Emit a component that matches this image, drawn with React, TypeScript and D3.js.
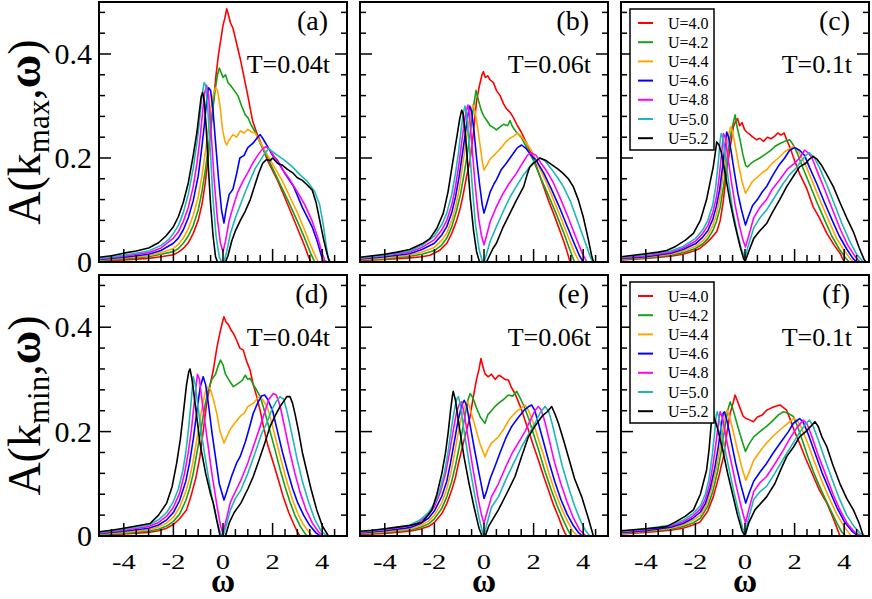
import React from "react";
import * as d3 from "d3";

// ---------- data ----------
const uLabels = ["U=4.0", "U=4.2", "U=4.4", "U=4.6", "U=4.8", "U=5.0", "U=5.2"];
const seriesColors = ["#ff0000", "#16a016", "#ffa500", "#0000ff", "#ff00ff", "#1cb8b8", "#000000"];
const panelLetters = ["(a)", "(b)", "(c)", "(d)", "(e)", "(f)"];
const tempLabels = ["T=0.04t", "T=0.06t", "T=0.1t", "T=0.04t", "T=0.06t", "T=0.1t"];
const omegaMajorTicks = [-4, -2, 0, 2, 4];
const omegaMinorTicks = [-4.5, -3.5, -3, -2.5, -1.5, -1, -0.5, 0.5, 1, 1.5, 2.5, 3, 3.5, 4.5];
const aMajorTicks = [0, 0.2, 0.4];
const aMinorTicks = [0.04, 0.08, 0.12, 0.16, 0.24, 0.28, 0.32, 0.36, 0.44, 0.48];

// (a) k_max, T=0.04t
const kmaxT004: number[][][] = [
  [[-5,0.002],[-4,0.004],[-3,0.007],[-2.5,0.01],[-2,0.014],[-1.8,0.019],[-1.6,0.026],[-1.4,0.037],[-1.2,0.055],[-1.0,0.08],[-0.85,0.11],[-0.72,0.15],[-0.6,0.2],[-0.48,0.26],[-0.38,0.31],[-0.28,0.36],[-0.18,0.4],[-0.08,0.43],[0.0,0.455],[0.08,0.47],[0.15,0.487],[0.22,0.475],[0.3,0.46],[0.4,0.45],[0.5,0.43],[0.6,0.41],[0.7,0.39],[0.85,0.355],[1.0,0.32],[1.1,0.295],[1.2,0.27],[1.35,0.25],[1.5,0.232],[1.8,0.195],[2.2,0.157],[2.5,0.123],[2.7,0.1],[3.0,0.065],[3.3,0.03],[3.45,0.01],[3.55,0],[5,0]],
  [[-5,0.003],[-4,0.006],[-3,0.01],[-2.5,0.015],[-2,0.02],[-1.8,0.026],[-1.6,0.036],[-1.4,0.05],[-1.2,0.07],[-1.0,0.1],[-0.85,0.135],[-0.7,0.18],[-0.55,0.235],[-0.42,0.29],[-0.32,0.33],[-0.22,0.36],[-0.15,0.373],[-0.08,0.365],[0.0,0.355],[0.1,0.36],[0.2,0.345],[0.3,0.34],[0.45,0.33],[0.6,0.32],[0.75,0.3],[0.9,0.283],[1.0,0.278],[1.15,0.262],[1.3,0.25],[1.5,0.228],[1.8,0.2],[2.1,0.17],[2.4,0.14],[2.7,0.11],[3.0,0.078],[3.3,0.045],[3.55,0.015],[3.7,0],[5,0]],
  [[-5,0.004],[-4,0.008],[-3,0.012],[-2.5,0.018],[-2,0.026],[-1.8,0.034],[-1.6,0.046],[-1.4,0.064],[-1.2,0.09],[-1.0,0.125],[-0.85,0.165],[-0.7,0.215],[-0.58,0.26],[-0.48,0.3],[-0.38,0.325],[-0.3,0.335],[-0.22,0.33],[-0.12,0.3],[-0.02,0.255],[0.08,0.232],[0.15,0.225],[0.25,0.235],[0.4,0.245],[0.55,0.24],[0.7,0.252],[0.85,0.248],[1.0,0.255],[1.15,0.25],[1.3,0.248],[1.45,0.235],[1.6,0.222],[1.8,0.205],[2.1,0.18],[2.4,0.155],[2.7,0.125],[3.0,0.095],[3.3,0.06],[3.55,0.03],[3.75,0.008],[3.85,0],[5,0]],
  [[-5,0.005],[-4,0.009],[-3,0.015],[-2.5,0.022],[-2,0.036],[-1.8,0.046],[-1.6,0.062],[-1.4,0.085],[-1.2,0.118],[-1.0,0.165],[-0.88,0.21],[-0.76,0.26],[-0.66,0.31],[-0.58,0.335],[-0.5,0.33],[-0.4,0.29],[-0.3,0.23],[-0.18,0.16],[-0.06,0.1],[0.04,0.075],[0.12,0.1],[0.25,0.13],[0.4,0.14],[0.55,0.17],[0.68,0.2],[0.85,0.205],[1.0,0.22],[1.2,0.228],[1.4,0.24],[1.5,0.245],[1.6,0.238],[1.8,0.222],[2.0,0.205],[2.2,0.195],[2.5,0.17],[2.85,0.145],[3.2,0.105],[3.6,0.067],[3.8,0.04],[3.95,0.015],[4.05,0],[5,0]],
  [[-5,0.006],[-4,0.011],[-3,0.018],[-2.5,0.027],[-2,0.046],[-1.8,0.058],[-1.6,0.078],[-1.4,0.105],[-1.2,0.145],[-1.05,0.19],[-0.92,0.24],[-0.82,0.29],[-0.74,0.325],[-0.66,0.34],[-0.58,0.32],[-0.48,0.25],[-0.36,0.16],[-0.22,0.08],[-0.1,0.035],[0.0,0.02],[0.1,0.04],[0.25,0.08],[0.4,0.105],[0.6,0.135],[0.8,0.155],[1.0,0.172],[1.2,0.19],[1.4,0.205],[1.6,0.218],[1.75,0.222],[1.9,0.215],[2.1,0.2],[2.4,0.178],[2.7,0.158],[3.0,0.135],[3.3,0.11],[3.6,0.078],[3.8,0.05],[3.95,0.025],[4.1,0.003],[4.2,0],[5,0]],
  [[-5,0.007],[-4,0.013],[-3,0.021],[-2.5,0.032],[-2.2,0.043],[-2,0.055],[-1.8,0.07],[-1.6,0.095],[-1.4,0.13],[-1.2,0.18],[-1.05,0.23],[-0.95,0.27],[-0.85,0.32],[-0.76,0.345],[-0.7,0.34],[-0.62,0.3],[-0.52,0.22],[-0.4,0.12],[-0.28,0.05],[-0.15,0.01],[-0.05,0.0],[0.05,0.002],[0.15,0.02],[0.3,0.055],[0.5,0.085],[0.7,0.11],[0.9,0.135],[1.1,0.158],[1.3,0.18],[1.5,0.195],[1.7,0.21],[1.85,0.218],[2.0,0.212],[2.2,0.205],[2.5,0.195],[2.8,0.183],[3.1,0.168],[3.4,0.155],[3.7,0.135],[3.9,0.11],[4.05,0.07],[4.15,0.035],[4.25,0.005],[4.35,0],[5,0]],
  [[-5,0.009],[-4.5,0.012],[-4,0.017],[-3.5,0.021],[-3,0.027],[-2.6,0.037],[-2.3,0.05],[-2,0.068],[-1.8,0.087],[-1.6,0.115],[-1.4,0.152],[-1.2,0.205],[-1.05,0.25],[-0.95,0.29],[-0.88,0.318],[-0.82,0.326],[-0.76,0.31],[-0.68,0.26],[-0.6,0.19],[-0.5,0.11],[-0.4,0.05],[-0.3,0.01],[-0.22,0.0],[0.1,0.0],[0.2,0.012],[0.35,0.04],[0.5,0.06],[0.7,0.08],[0.9,0.098],[1.1,0.12],[1.3,0.15],[1.45,0.172],[1.6,0.19],[1.75,0.197],[1.9,0.195],[2.0,0.2],[2.2,0.19],[2.4,0.186],[2.6,0.178],[2.8,0.172],[3.0,0.162],[3.2,0.157],[3.4,0.148],[3.6,0.138],[3.75,0.115],[3.9,0.08],[4.05,0.045],[4.2,0.015],[4.3,0.0],[5,0]],
];

// (b) k_max, T=0.06t
const kmaxT006: number[][][] = [
  [[-5,0.003],[-4,0.005],[-3,0.008],[-2.5,0.01],[-2.18,0.013],[-1.8,0.022],[-1.5,0.036],[-1.3,0.055],[-1.1,0.08],[-0.95,0.105],[-0.83,0.132],[-0.7,0.165],[-0.56,0.196],[-0.43,0.247],[-0.3,0.31],[-0.18,0.34],[-0.08,0.36],[-0.02,0.366],[0.05,0.355],[0.15,0.358],[0.25,0.35],[0.38,0.345],[0.5,0.33],[0.65,0.32],[0.78,0.305],[0.9,0.295],[1.05,0.288],[1.18,0.278],[1.35,0.262],[1.5,0.25],[1.6,0.24],[1.8,0.22],[2.0,0.2],[2.2,0.172],[2.4,0.145],[2.6,0.118],[2.8,0.094],[3.0,0.068],[3.2,0.042],[3.35,0.02],[3.47,0],[5,0]],
  [[-5,0.004],[-4,0.006],[-3,0.011],[-2.5,0.015],[-2,0.022],[-1.7,0.033],[-1.5,0.046],[-1.3,0.068],[-1.1,0.1],[-0.95,0.13],[-0.8,0.17],[-0.68,0.205],[-0.55,0.25],[-0.42,0.3],[-0.32,0.33],[-0.22,0.31],[-0.1,0.29],[0.0,0.28],[0.1,0.273],[0.25,0.262],[0.4,0.258],[0.5,0.254],[0.65,0.26],[0.8,0.265],[0.95,0.262],[1.05,0.272],[1.15,0.26],[1.3,0.25],[1.5,0.24],[1.7,0.222],[2.0,0.195],[2.3,0.16],[2.6,0.128],[2.9,0.094],[3.2,0.058],[3.45,0.025],[3.65,0],[5,0]],
  [[-5,0.005],[-4,0.008],[-3,0.013],[-2.5,0.019],[-2,0.028],[-1.7,0.042],[-1.5,0.056],[-1.3,0.08],[-1.15,0.105],[-1.0,0.14],[-0.88,0.18],[-0.76,0.22],[-0.64,0.26],[-0.54,0.29],[-0.45,0.302],[-0.36,0.29],[-0.26,0.26],[-0.16,0.225],[-0.06,0.19],[0.0,0.177],[0.1,0.185],[0.25,0.198],[0.4,0.205],[0.5,0.21],[0.7,0.22],[0.9,0.232],[1.05,0.238],[1.2,0.242],[1.35,0.248],[1.5,0.242],[1.7,0.23],[1.9,0.215],[2.2,0.185],[2.5,0.155],[2.8,0.12],[3.1,0.085],[3.4,0.048],[3.65,0.018],[3.85,0],[5,0]],
  [[-5,0.006],[-4,0.01],[-3,0.016],[-2.5,0.024],[-2,0.036],[-1.7,0.052],[-1.5,0.068],[-1.3,0.095],[-1.15,0.125],[-1.0,0.165],[-0.88,0.205],[-0.76,0.245],[-0.66,0.28],[-0.58,0.3],[-0.5,0.29],[-0.4,0.25],[-0.3,0.2],[-0.18,0.15],[-0.07,0.11],[0.0,0.094],[0.1,0.11],[0.25,0.135],[0.4,0.15],[0.5,0.158],[0.7,0.178],[0.9,0.19],[1.05,0.2],[1.2,0.21],[1.35,0.22],[1.52,0.225],[1.7,0.218],[1.9,0.205],[2.1,0.196],[2.4,0.172],[2.7,0.142],[3.0,0.11],[3.3,0.075],[3.6,0.04],[3.85,0.012],[4.0,0],[5,0]],
  [[-5,0.007],[-4,0.012],[-3,0.019],[-2.5,0.028],[-2,0.043],[-1.7,0.062],[-1.5,0.08],[-1.3,0.11],[-1.15,0.145],[-1.02,0.185],[-0.9,0.23],[-0.8,0.265],[-0.72,0.29],[-0.65,0.302],[-0.58,0.28],[-0.48,0.22],[-0.36,0.15],[-0.22,0.085],[-0.1,0.05],[0.0,0.033],[0.1,0.05],[0.25,0.078],[0.5,0.106],[0.75,0.13],[1.0,0.15],[1.3,0.17],[1.55,0.19],[1.75,0.205],[1.9,0.21],[2.1,0.205],[2.3,0.19],[2.5,0.177],[2.8,0.152],[3.1,0.12],[3.4,0.085],[3.7,0.048],[3.95,0.018],[4.15,0],[5,0]],
  [[-5,0.008],[-4,0.013],[-3,0.021],[-2.5,0.032],[-2,0.05],[-1.7,0.072],[-1.5,0.094],[-1.3,0.13],[-1.15,0.17],[-1.03,0.21],[-0.92,0.255],[-0.84,0.285],[-0.77,0.3],[-0.7,0.285],[-0.6,0.23],[-0.48,0.15],[-0.35,0.075],[-0.2,0.025],[-0.08,0.003],[0.0,0.0],[0.1,0.015],[0.25,0.04],[0.5,0.068],[0.8,0.1],[1.05,0.125],[1.3,0.145],[1.6,0.168],[1.85,0.183],[2.05,0.195],[2.25,0.2],[2.45,0.195],[2.7,0.18],[3.0,0.16],[3.2,0.145],[3.5,0.115],[3.8,0.075],[4.1,0.035],[4.3,0.008],[4.4,0],[5,0]],
  [[-5,0.009],[-4.5,0.012],[-4,0.015],[-3.5,0.019],[-3,0.024],[-2.5,0.035],[-2.18,0.045],[-1.9,0.065],[-1.64,0.094],[-1.45,0.135],[-1.3,0.18],[-1.2,0.21],[-1.08,0.245],[-0.98,0.275],[-0.9,0.292],[-0.84,0.285],[-0.76,0.25],[-0.66,0.19],[-0.55,0.12],[-0.42,0.06],[-0.3,0.02],[-0.18,0.0],[0.1,0.0],[0.22,0.012],[0.35,0.025],[0.5,0.036],[0.75,0.065],[1.05,0.094],[1.3,0.118],[1.6,0.145],[1.75,0.17],[1.85,0.183],[2.0,0.19],[2.25,0.2],[2.5,0.195],[2.8,0.185],[3.0,0.178],[3.2,0.17],[3.4,0.16],[3.6,0.145],[3.8,0.12],[4.0,0.087],[4.2,0.045],[4.35,0.01],[4.42,0],[5,0]],
];

// (c) k_max, T=0.1t
const kmaxT01: number[][][] = [
  [[-5,0.004],[-4,0.007],[-3,0.011],[-2.5,0.015],[-2,0.022],[-1.8,0.027],[-1.6,0.035],[-1.4,0.044],[-1.14,0.058],[-1.0,0.08],[-0.88,0.115],[-0.74,0.175],[-0.6,0.22],[-0.47,0.26],[-0.38,0.27],[-0.3,0.276],[-0.22,0.262],[-0.12,0.268],[-0.02,0.255],[0.07,0.25],[0.2,0.245],[0.32,0.24],[0.47,0.235],[0.6,0.238],[0.75,0.232],[0.9,0.24],[1.05,0.237],[1.2,0.242],[1.32,0.248],[1.45,0.244],[1.58,0.248],[1.68,0.235],[1.8,0.222],[2.0,0.195],[2.2,0.17],[2.5,0.14],[2.75,0.106],[3.0,0.085],[3.3,0.055],[3.6,0.032],[3.83,0.017],[3.95,0.005],[4.03,0],[5,0]],
  [[-5,0.005],[-4,0.008],[-3,0.013],[-2.5,0.018],[-2,0.026],[-1.7,0.035],[-1.5,0.045],[-1.3,0.06],[-1.15,0.078],[-1.0,0.105],[-0.85,0.15],[-0.72,0.2],[-0.6,0.24],[-0.5,0.262],[-0.4,0.283],[-0.32,0.26],[-0.2,0.235],[-0.08,0.205],[0.03,0.185],[0.1,0.183],[0.25,0.19],[0.4,0.195],[0.6,0.2],[0.87,0.209],[1.05,0.215],[1.2,0.222],[1.41,0.228],[1.6,0.232],[1.8,0.235],[1.95,0.225],[2.1,0.21],[2.3,0.185],[2.6,0.15],[2.9,0.115],[3.2,0.082],[3.5,0.05],[3.8,0.025],[4.05,0.008],[4.2,0],[5,0]],
  [[-5,0.006],[-4,0.009],[-3,0.015],[-2.5,0.021],[-2,0.03],[-1.7,0.041],[-1.5,0.052],[-1.3,0.07],[-1.15,0.092],[-1.0,0.125],[-0.88,0.17],[-0.76,0.215],[-0.66,0.245],[-0.58,0.26],[-0.5,0.25],[-0.38,0.22],[-0.25,0.185],[-0.12,0.155],[0.02,0.132],[0.12,0.14],[0.3,0.155],[0.5,0.163],[0.7,0.172],[0.87,0.177],[1.1,0.19],[1.35,0.2],[1.6,0.212],[1.8,0.218],[1.95,0.222],[2.1,0.218],[2.3,0.2],[2.5,0.18],[2.8,0.145],[3.1,0.11],[3.4,0.077],[3.7,0.045],[4.0,0.022],[4.25,0.006],[4.37,0],[5,0]],
  [[-5,0.007],[-4,0.01],[-3,0.017],[-2.5,0.024],[-2,0.035],[-1.7,0.048],[-1.5,0.06],[-1.3,0.082],[-1.15,0.108],[-1.02,0.14],[-0.9,0.185],[-0.8,0.225],[-0.74,0.25],[-0.66,0.24],[-0.55,0.21],[-0.42,0.17],[-0.28,0.13],[-0.14,0.1],[0.02,0.071],[0.12,0.085],[0.3,0.108],[0.5,0.12],[0.7,0.135],[0.87,0.145],[1.1,0.165],[1.35,0.185],[1.6,0.2],[1.8,0.215],[2.0,0.22],[2.2,0.215],[2.4,0.205],[2.6,0.182],[2.9,0.15],[3.2,0.115],[3.5,0.082],[3.8,0.05],[4.1,0.025],[4.35,0.007],[4.5,0],[5,0]],
  [[-5,0.008],[-4,0.012],[-3,0.019],[-2.5,0.027],[-2,0.04],[-1.7,0.055],[-1.5,0.07],[-1.3,0.095],[-1.15,0.125],[-1.05,0.16],[-0.95,0.205],[-0.87,0.247],[-0.8,0.24],[-0.7,0.205],[-0.55,0.155],[-0.4,0.11],[-0.25,0.075],[-0.1,0.045],[0.02,0.029],[0.15,0.05],[0.35,0.085],[0.6,0.105],[0.87,0.12],[1.1,0.14],[1.4,0.158],[1.7,0.178],[2.0,0.19],[2.2,0.2],[2.4,0.215],[2.55,0.21],[2.7,0.2],[2.95,0.17],[3.25,0.135],[3.55,0.098],[3.85,0.062],[4.15,0.032],[4.45,0.01],[4.64,0],[5,0]],
  [[-5,0.009],[-4,0.014],[-3,0.021],[-2.5,0.03],[-2,0.045],[-1.7,0.062],[-1.5,0.08],[-1.3,0.11],[-1.18,0.145],[-1.08,0.19],[-1.0,0.235],[-0.96,0.247],[-0.9,0.24],[-0.8,0.205],[-0.65,0.15],[-0.5,0.1],[-0.32,0.058],[-0.15,0.025],[0.0,0.008],[0.12,0.03],[0.35,0.065],[0.6,0.085],[0.87,0.1],[1.2,0.125],[1.5,0.148],[1.8,0.168],[2.05,0.18],[2.2,0.19],[2.45,0.205],[2.6,0.21],[2.8,0.2],[3.0,0.182],[3.3,0.148],[3.6,0.112],[3.9,0.075],[4.2,0.042],[4.5,0.015],[4.77,0],[5,0]],
  [[-5,0.01],[-4.5,0.013],[-4,0.016],[-3.5,0.019],[-3.16,0.022],[-2.8,0.03],[-2.4,0.042],[-2.08,0.055],[-1.8,0.08],[-1.55,0.12],[-1.4,0.155],[-1.28,0.183],[-1.2,0.21],[-1.14,0.231],[-1.05,0.225],[-0.95,0.21],[-0.8,0.17],[-0.6,0.115],[-0.4,0.07],[-0.2,0.03],[-0.05,0.005],[0.02,0.003],[0.15,0.02],[0.35,0.045],[0.6,0.06],[0.87,0.074],[1.1,0.095],[1.4,0.12],[1.68,0.145],[1.95,0.165],[2.2,0.183],[2.45,0.19],[2.6,0.198],[2.75,0.203],[2.9,0.198],[3.1,0.185],[3.3,0.168],[3.56,0.145],[3.85,0.112],[4.1,0.085],[4.37,0.058],[4.6,0.028],[4.8,0.005],[4.88,0],[5,0]],
];

// (d) k_min, T=0.04t
const kminT004: number[][][] = [
  [[-5,0.002],[-4,0.004],[-3,0.007],[-2.6,0.01],[-2.27,0.015],[-2,0.022],[-1.75,0.033],[-1.47,0.05],[-1.3,0.075],[-1.1,0.11],[-0.93,0.152],[-0.8,0.2],[-0.66,0.254],[-0.52,0.29],[-0.39,0.318],[-0.25,0.36],[-0.12,0.39],[-0.02,0.41],[0.04,0.42],[0.12,0.41],[0.22,0.405],[0.32,0.395],[0.42,0.388],[0.55,0.375],[0.68,0.36],[0.82,0.356],[0.95,0.335],[1.09,0.318],[1.22,0.29],[1.36,0.267],[1.5,0.24],[1.63,0.21],[1.8,0.175],[2.03,0.14],[2.25,0.105],[2.43,0.075],[2.65,0.045],[2.84,0.024],[3.0,0.008],[3.1,0],[5,0]],
  [[-5,0.003],[-4,0.005],[-3,0.009],[-2.6,0.013],[-2.27,0.019],[-2,0.028],[-1.75,0.042],[-1.5,0.068],[-1.35,0.09],[-1.2,0.12],[-1.05,0.16],[-0.9,0.2],[-0.75,0.245],[-0.6,0.278],[-0.45,0.3],[-0.3,0.31],[-0.2,0.325],[-0.1,0.337],[0.0,0.328],[0.1,0.31],[0.25,0.298],[0.42,0.286],[0.6,0.292],[0.78,0.298],[0.9,0.308],[1.0,0.3],[1.1,0.302],[1.22,0.29],[1.35,0.28],[1.5,0.267],[1.7,0.235],[1.9,0.2],[2.1,0.165],[2.3,0.128],[2.5,0.095],[2.7,0.065],[2.9,0.04],[3.1,0.02],[3.3,0.005],[3.4,0],[5,0]],
  [[-5,0.004],[-4,0.007],[-3,0.012],[-2.6,0.017],[-2.27,0.025],[-2,0.036],[-1.75,0.055],[-1.5,0.085],[-1.35,0.11],[-1.2,0.145],[-1.0,0.2],[-0.85,0.245],[-0.72,0.275],[-0.6,0.286],[-0.5,0.28],[-0.38,0.26],[-0.25,0.235],[-0.12,0.2],[0.04,0.178],[0.15,0.19],[0.3,0.205],[0.5,0.218],[0.69,0.229],[0.85,0.235],[1.0,0.248],[1.22,0.254],[1.4,0.265],[1.5,0.267],[1.62,0.26],[1.8,0.245],[2.0,0.21],[2.2,0.172],[2.4,0.135],[2.6,0.1],[2.8,0.07],[3.0,0.045],[3.2,0.025],[3.45,0.008],[3.62,0],[5,0]],
  [[-5,0.005],[-4,0.009],[-3,0.015],[-2.6,0.021],[-2.27,0.031],[-2,0.045],[-1.75,0.068],[-1.5,0.105],[-1.35,0.14],[-1.2,0.185],[-1.05,0.24],[-0.92,0.285],[-0.8,0.305],[-0.7,0.29],[-0.58,0.25],[-0.45,0.2],[-0.3,0.15],[-0.15,0.1],[0.04,0.069],[0.15,0.085],[0.35,0.115],[0.55,0.14],[0.69,0.152],[0.9,0.18],[1.05,0.205],[1.22,0.235],[1.4,0.255],[1.55,0.268],[1.68,0.27],[1.8,0.262],[2.0,0.24],[2.2,0.2],[2.4,0.16],[2.6,0.125],[2.8,0.092],[3.0,0.065],[3.25,0.04],[3.5,0.02],[3.75,0.006],[3.92,0],[5,0]],
  [[-5,0.006],[-4,0.011],[-3,0.018],[-2.6,0.026],[-2.27,0.038],[-2,0.055],[-1.75,0.082],[-1.55,0.12],[-1.4,0.16],[-1.27,0.205],[-1.15,0.26],[-1.03,0.31],[-0.95,0.3],[-0.82,0.25],[-0.65,0.19],[-0.45,0.12],[-0.25,0.06],[-0.1,0.02],[0.0,0.005],[0.1,0.025],[0.3,0.065],[0.55,0.09],[0.75,0.11],[1.0,0.14],[1.25,0.175],[1.5,0.21],[1.7,0.24],[1.85,0.262],[2.03,0.273],[2.15,0.27],[2.3,0.25],[2.5,0.205],[2.7,0.16],[2.9,0.12],[3.1,0.085],[3.35,0.05],[3.6,0.025],[3.85,0.008],[4.05,0],[5,0]],
  [[-5,0.007],[-4,0.013],[-3,0.021],[-2.6,0.031],[-2.27,0.045],[-2,0.066],[-1.8,0.09],[-1.62,0.125],[-1.5,0.16],[-1.38,0.21],[-1.28,0.26],[-1.2,0.305],[-1.12,0.29],[-1.0,0.245],[-0.85,0.19],[-0.65,0.13],[-0.45,0.075],[-0.25,0.03],[-0.1,0.005],[0.0,0.0],[0.1,0.015],[0.3,0.05],[0.5,0.072],[0.72,0.088],[1.0,0.12],[1.3,0.16],[1.55,0.195],[1.76,0.216],[1.95,0.24],[2.15,0.258],[2.3,0.267],[2.45,0.262],[2.6,0.235],[2.8,0.19],[3.0,0.145],[3.2,0.105],[3.45,0.065],[3.7,0.032],[3.95,0.01],[4.2,0],[5,0]],
  [[-5,0.008],[-4.5,0.011],[-4,0.015],[-3.5,0.019],[-2.94,0.024],[-2.6,0.04],[-2.27,0.063],[-2.05,0.095],[-1.87,0.139],[-1.72,0.185],[-1.6,0.235],[-1.47,0.29],[-1.38,0.315],[-1.33,0.32],[-1.25,0.3],[-1.1,0.245],[-0.93,0.178],[-0.7,0.12],[-0.5,0.08],[-0.39,0.063],[-0.25,0.03],[-0.12,0.0],[0.1,0.0],[0.25,0.025],[0.45,0.045],[0.72,0.063],[1.0,0.09],[1.22,0.114],[1.45,0.145],[1.7,0.18],[1.9,0.21],[2.1,0.23],[2.3,0.248],[2.45,0.258],[2.57,0.267],[2.7,0.267],[2.8,0.255],[2.9,0.235],[3.05,0.2],[3.2,0.16],[3.37,0.126],[3.55,0.09],[3.78,0.05],[4.0,0.02],[4.25,0],[5,0]],
];

// (e) k_min, T=0.06t
const kminT006: number[][][] = [
  [[-5,0.003],[-4,0.005],[-3,0.009],[-2.6,0.013],[-2.24,0.018],[-2,0.026],[-1.7,0.043],[-1.5,0.062],[-1.3,0.088],[-1.15,0.112],[-1.03,0.139],[-0.9,0.165],[-0.77,0.19],[-0.66,0.21],[-0.56,0.229],[-0.43,0.267],[-0.3,0.3],[-0.2,0.32],[-0.12,0.34],[-0.05,0.325],[0.05,0.31],[0.17,0.305],[0.3,0.31],[0.45,0.3],[0.6,0.308],[0.71,0.305],[0.85,0.3],[0.98,0.299],[1.1,0.285],[1.25,0.273],[1.38,0.258],[1.52,0.241],[1.65,0.222],[1.79,0.203],[2.0,0.172],[2.19,0.146],[2.4,0.115],[2.6,0.088],[2.8,0.06],[3.0,0.037],[3.15,0.018],[3.27,0.005],[3.35,0],[5,0]],
  [[-5,0.004],[-4,0.007],[-3,0.011],[-2.6,0.016],[-2.24,0.023],[-2,0.033],[-1.7,0.053],[-1.5,0.075],[-1.3,0.105],[-1.15,0.135],[-1.0,0.17],[-0.88,0.2],[-0.75,0.235],[-0.65,0.26],[-0.56,0.273],[-0.45,0.265],[-0.3,0.245],[-0.15,0.228],[0.04,0.216],[0.15,0.232],[0.3,0.24],[0.44,0.248],[0.6,0.255],[0.8,0.262],[0.98,0.27],[1.15,0.268],[1.32,0.277],[1.45,0.265],[1.6,0.25],[1.8,0.225],[2.0,0.195],[2.2,0.165],[2.45,0.125],[2.7,0.09],[2.95,0.058],[3.2,0.03],[3.4,0.01],[3.53,0],[5,0]],
  [[-5,0.005],[-4,0.008],[-3,0.013],[-2.6,0.019],[-2.24,0.028],[-2,0.04],[-1.7,0.064],[-1.5,0.09],[-1.32,0.125],[-1.18,0.16],[-1.05,0.195],[-0.92,0.225],[-0.8,0.245],[-0.68,0.258],[-0.6,0.25],[-0.45,0.225],[-0.3,0.2],[-0.15,0.175],[0.04,0.152],[0.15,0.165],[0.3,0.178],[0.58,0.19],[0.8,0.205],[1.0,0.222],[1.12,0.229],[1.3,0.238],[1.5,0.245],[1.65,0.251],[1.8,0.24],[2.0,0.215],[2.2,0.185],[2.4,0.155],[2.65,0.115],[2.9,0.08],[3.15,0.05],[3.4,0.025],[3.6,0.008],[3.8,0],[5,0]],
  [[-5,0.006],[-4,0.01],[-3,0.016],[-2.6,0.023],[-2.24,0.034],[-2,0.048],[-1.7,0.076],[-1.5,0.105],[-1.35,0.14],[-1.2,0.18],[-1.05,0.22],[-0.9,0.25],[-0.8,0.26],[-0.7,0.25],[-0.55,0.21],[-0.4,0.17],[-0.2,0.12],[0.0,0.072],[0.1,0.085],[0.25,0.11],[0.44,0.133],[0.65,0.16],[0.9,0.19],[1.12,0.21],[1.35,0.225],[1.6,0.24],[1.8,0.248],[1.92,0.251],[2.05,0.24],[2.2,0.215],[2.4,0.18],[2.6,0.145],[2.85,0.105],[3.1,0.07],[3.35,0.042],[3.6,0.02],[3.8,0.007],[3.97,0],[5,0]],
  [[-5,0.007],[-4,0.012],[-3,0.019],[-2.6,0.027],[-2.24,0.04],[-2,0.056],[-1.75,0.085],[-1.55,0.12],[-1.4,0.158],[-1.25,0.2],[-1.1,0.238],[-0.98,0.255],[-0.9,0.257],[-0.8,0.235],[-0.65,0.19],[-0.45,0.13],[-0.25,0.075],[-0.1,0.04],[0.0,0.024],[0.12,0.045],[0.3,0.075],[0.58,0.1],[0.9,0.135],[1.15,0.16],[1.38,0.178],[1.65,0.2],[1.9,0.225],[2.05,0.24],[2.19,0.248],[2.3,0.242],[2.45,0.22],[2.65,0.18],[2.85,0.14],[3.1,0.1],[3.35,0.065],[3.6,0.035],[3.85,0.012],[4.12,0],[5,0]],
  [[-5,0.008],[-4,0.013],[-3,0.021],[-2.6,0.03],[-2.24,0.045],[-2,0.062],[-1.8,0.085],[-1.6,0.12],[-1.45,0.16],[-1.32,0.205],[-1.2,0.24],[-1.1,0.262],[-1.03,0.267],[-0.95,0.25],[-0.8,0.2],[-0.6,0.14],[-0.4,0.085],[-0.2,0.035],[-0.05,0.005],[0.0,0.0],[0.1,0.02],[0.3,0.055],[0.58,0.075],[0.9,0.11],[1.2,0.14],[1.52,0.171],[1.8,0.195],[2.05,0.215],[2.25,0.235],[2.46,0.248],[2.6,0.24],[2.75,0.215],[2.95,0.175],[3.15,0.135],[3.4,0.095],[3.65,0.058],[3.9,0.028],[4.1,0.01],[4.27,0],[5,0]],
  [[-5,0.009],[-4.5,0.011],[-4,0.014],[-3.5,0.017],[-3,0.02],[-2.5,0.026],[-2.1,0.05],[-1.9,0.08],[-1.7,0.12],[-1.55,0.16],[-1.44,0.2],[-1.35,0.24],[-1.27,0.27],[-1.24,0.277],[-1.15,0.26],[-1.0,0.21],[-0.8,0.15],[-0.6,0.1],[-0.4,0.055],[-0.2,0.015],[-0.08,0.0],[0.05,0.0],[0.2,0.02],[0.58,0.05],[0.9,0.08],[1.25,0.114],[1.5,0.15],[1.79,0.19],[2.05,0.21],[2.33,0.229],[2.55,0.238],[2.73,0.248],[2.85,0.235],[3.0,0.216],[3.2,0.185],[3.4,0.152],[3.65,0.11],[3.94,0.075],[4.2,0.035],[4.41,0],[5,0]],
];

// (f) k_min, T=0.1t
const kminT01: number[][][] = [
  [[-5,0.004],[-4,0.007],[-3,0.011],[-2.5,0.015],[-2.1,0.021],[-1.81,0.027],[-1.5,0.048],[-1.28,0.075],[-1.05,0.115],[-0.87,0.152],[-0.72,0.2],[-0.6,0.235],[-0.48,0.255],[-0.4,0.27],[-0.3,0.258],[-0.2,0.245],[-0.07,0.229],[0.05,0.225],[0.2,0.222],[0.34,0.219],[0.5,0.228],[0.7,0.232],[0.87,0.241],[1.05,0.245],[1.2,0.248],[1.41,0.251],[1.55,0.246],[1.68,0.241],[1.85,0.22],[2.0,0.2],[2.2,0.178],[2.45,0.148],[2.76,0.114],[3.0,0.088],[3.3,0.063],[3.55,0.035],[3.75,0.01],[3.83,0],[5,0]],
  [[-5,0.005],[-4,0.008],[-3,0.013],[-2.5,0.018],[-2.1,0.025],[-1.8,0.034],[-1.5,0.057],[-1.3,0.085],[-1.1,0.125],[-0.95,0.165],[-0.82,0.205],[-0.7,0.24],[-0.6,0.257],[-0.5,0.245],[-0.35,0.22],[-0.2,0.195],[-0.05,0.172],[0.02,0.162],[0.15,0.175],[0.35,0.19],[0.6,0.2],[0.87,0.21],[1.1,0.22],[1.35,0.232],[1.55,0.238],[1.75,0.235],[1.95,0.229],[2.1,0.212],[2.3,0.185],[2.55,0.15],[2.8,0.118],[3.1,0.085],[3.4,0.055],[3.7,0.025],[3.9,0.008],[4.05,0],[5,0]],
  [[-5,0.006],[-4,0.009],[-3,0.015],[-2.5,0.021],[-2.1,0.03],[-1.8,0.04],[-1.55,0.06],[-1.35,0.09],[-1.15,0.13],[-1.0,0.17],[-0.87,0.21],[-0.78,0.235],[-0.72,0.241],[-0.62,0.228],[-0.45,0.195],[-0.28,0.16],[-0.12,0.13],[0.03,0.107],[0.15,0.12],[0.35,0.145],[0.6,0.162],[0.87,0.178],[1.15,0.192],[1.45,0.205],[1.7,0.215],[1.95,0.225],[2.1,0.222],[2.3,0.205],[2.55,0.175],[2.8,0.142],[3.1,0.105],[3.4,0.072],[3.7,0.042],[4.0,0.018],[4.2,0.005],[4.3,0],[5,0]],
  [[-5,0.007],[-4,0.01],[-3,0.017],[-2.5,0.024],[-2.1,0.034],[-1.8,0.046],[-1.6,0.062],[-1.4,0.092],[-1.22,0.13],[-1.08,0.17],[-0.96,0.21],[-0.88,0.235],[-0.83,0.238],[-0.72,0.22],[-0.55,0.18],[-0.38,0.14],[-0.18,0.1],[0.03,0.063],[0.15,0.08],[0.35,0.105],[0.6,0.122],[0.87,0.139],[1.15,0.16],[1.45,0.18],[1.75,0.2],[1.95,0.216],[2.2,0.225],[2.35,0.218],[2.55,0.195],[2.8,0.162],[3.1,0.122],[3.4,0.088],[3.7,0.055],[4.0,0.028],[4.3,0.01],[4.55,0],[5,0]],
  [[-5,0.008],[-4,0.012],[-3,0.019],[-2.5,0.027],[-2.1,0.038],[-1.8,0.052],[-1.6,0.07],[-1.42,0.1],[-1.28,0.14],[-1.15,0.185],[-1.05,0.225],[-1.0,0.238],[-0.9,0.225],[-0.75,0.185],[-0.55,0.14],[-0.35,0.095],[-0.15,0.055],[0.02,0.025],[0.15,0.05],[0.35,0.085],[0.6,0.102],[0.87,0.114],[1.2,0.138],[1.55,0.165],[1.85,0.19],[2.1,0.208],[2.35,0.222],[2.5,0.215],[2.7,0.19],[2.95,0.155],[3.25,0.118],[3.55,0.08],[3.85,0.048],[4.15,0.022],[4.45,0.006],[4.7,0],[5,0]],
  [[-5,0.009],[-4,0.014],[-3,0.021],[-2.5,0.03],[-2.1,0.043],[-1.8,0.058],[-1.6,0.08],[-1.45,0.11],[-1.32,0.155],[-1.22,0.2],[-1.16,0.232],[-1.12,0.238],[-1.02,0.22],[-0.85,0.175],[-0.65,0.13],[-0.45,0.085],[-0.25,0.045],[-0.1,0.015],[0.0,0.005],[0.12,0.03],[0.35,0.07],[0.6,0.085],[0.87,0.095],[1.2,0.12],[1.55,0.148],[1.9,0.175],[2.2,0.198],[2.45,0.215],[2.6,0.222],[2.75,0.21],[2.95,0.185],[3.2,0.15],[3.5,0.11],[3.8,0.072],[4.1,0.04],[4.4,0.018],[4.65,0.005],[4.85,0],[5,0]],
  [[-5,0.01],[-4.5,0.012],[-4,0.014],[-3.5,0.016],[-3.16,0.018],[-2.8,0.027],[-2.4,0.038],[-2.08,0.05],[-1.8,0.08],[-1.55,0.126],[-1.45,0.165],[-1.38,0.205],[-1.34,0.229],[-1.25,0.228],[-1.1,0.205],[-0.9,0.165],[-0.7,0.12],[-0.5,0.08],[-0.3,0.04],[-0.12,0.01],[0.0,0.0],[0.15,0.025],[0.4,0.05],[0.87,0.075],[1.2,0.1],[1.45,0.128],[1.68,0.152],[1.95,0.17],[2.2,0.19],[2.45,0.2],[2.65,0.21],[2.82,0.219],[2.95,0.21],[3.1,0.19],[3.3,0.171],[3.55,0.135],[3.83,0.1],[4.1,0.072],[4.37,0.05],[4.6,0.025],[4.77,0],[5,0]],
];

const panelData = [kmaxT004, kmaxT006, kmaxT01, kminT004, kminT006, kminT01];

// ---------- layout ----------
const W = 872;
const H = 599;
const colX = [99, 360, 621];
const panelW = 248;
const rowY = [2, 275];
const rowH = [260, 261];
const FONT = '"Liberation Serif"';

function tStyle(size: number, bold?: boolean): React.CSSProperties {
  return { fontFamily: FONT, fontSize: `${size}px`, fontWeight: bold ? "bold" : "normal" };
}

function panelGeom(idx: number) {
  const col = idx % 3;
  const row = Math.floor(idx / 3);
  const x0 = colX[col];
  const y0 = rowY[row];
  const h = rowH[row];
  const x = d3.scaleLinear().domain([-5, 5]).range([x0, x0 + panelW]);
  const y = d3.scaleLinear().domain([0, 0.5]).range([y0 + h, y0]);
  return { col, row, x0, y0, h, x, y, xr: x0 + panelW, yb: y0 + h };
}

function PanelMarks({ idx }: { idx: number }) {
  const { col, x0, y0, h, x, y, xr, yb } = panelGeom(idx);
  const line = d3
    .line<number[]>()
    .x((d) => x(d[0]))
    .y((d) => y(d[1]));
  const clipId = `clip${idx}`;
  return (
    <g>
      <defs>
        <clipPath id={clipId}>
          <rect x={x0} y={y0} width={panelW} height={h} />
        </clipPath>
      </defs>
      <g clipPath={`url(#${clipId})`}>
        {panelData[idx].map((s, i) => (
          <path key={i} d={line(s) || ""} fill="none" stroke={seriesColors[i]} strokeWidth={1.6} strokeLinejoin="round" />
        ))}
      </g>
      {aMajorTicks.map((t) => (
        <g key={"ym" + t}>
          <line x1={x0} x2={x0 + 12} y1={y(t)} y2={y(t)} stroke="#000" strokeWidth={1.5} />
          <line x1={xr} x2={xr - 12} y1={y(t)} y2={y(t)} stroke="#000" strokeWidth={1.5} />
        </g>
      ))}
      {aMinorTicks.map((t) => (
        <g key={"yn" + t}>
          <line x1={x0} x2={x0 + 6} y1={y(t)} y2={y(t)} stroke="#000" strokeWidth={1.5} />
          <line x1={xr} x2={xr - 6} y1={y(t)} y2={y(t)} stroke="#000" strokeWidth={1.5} />
        </g>
      ))}
      {omegaMajorTicks.map((t) => (
        <line key={"xm" + t} x1={x(t)} x2={x(t)} y1={yb} y2={yb - 13} stroke="#000" strokeWidth={1.5} />
      ))}
      {omegaMinorTicks.map((t) => (
        <line key={"xn" + t} x1={x(t)} x2={x(t)} y1={yb} y2={yb - 7} stroke="#000" strokeWidth={1.5} />
      ))}
      <rect x={x0} y={y0} width={panelW} height={h} fill="none" stroke="#000" strokeWidth={2} />
      {col === 2 && (
        <g>
          <rect x={x0 + 9} y={y0 + 7} width={84} height={141} fill="#fff" stroke="#000" strokeWidth={1.5} />
          {uLabels.map((u, i) => {
            const ly = y0 + 21 + i * 19.2;
            return <line key={u} x1={x0 + 17} x2={x0 + 32} y1={ly} y2={ly} stroke={seriesColors[i]} strokeWidth={2} />;
          })}
        </g>
      )}
    </g>
  );
}

function PanelTexts({ idx }: { idx: number }) {
  const { col, row, x0, y0, h, x, y, xr, yb } = panelGeom(idx);
  return (
    <g>
      <text x={xr - 19} y={y0 + 28} textAnchor="end" style={tStyle(28)}>
        {panelLetters[idx]}
      </text>
      <text x={xr - 17} y={y0 + 71} textAnchor="end" style={tStyle(26)}>
        {tempLabels[idx]}
      </text>
      {col === 0 &&
        aMajorTicks.map((t) => (
          <text key={"yl" + t} x={x0 - 7} y={y(t) + 10} textAnchor="end" style={tStyle(30)}>
            {t === 0 ? "0" : d3.format(".1f")(t)}
          </text>
        ))}
      {row === 1 &&
        omegaMajorTicks.map((t) => (
          <text
            key={"xl" + t}
            transform={`translate(${x(t)},${yb + 33}) scale(1.3,1)`}
            textAnchor="middle"
            style={tStyle(22)}
          >
            {String(t)}
          </text>
        ))}
      {row === 1 && (
        <text x={x(0)} y={592} textAnchor="middle" style={tStyle(33, true)}>
          ω
        </text>
      )}
      {col === 0 && (
        <text transform={`translate(40,${y0 + h / 2}) rotate(-90)`} textAnchor="middle" style={tStyle(46)}>
          A(k
          <tspan style={tStyle(31)} dy={9}>
            {row === 0 ? "max" : "min"}
          </tspan>
          <tspan dy={-9}>,</tspan>
          <tspan style={tStyle(46, true)}>ω</tspan>)
        </text>
      )}
      {col === 2 &&
        uLabels.map((u, i) => (
          <text key={u} x={x0 + 47} y={y0 + 21 + i * 19.2 + 5.5} style={tStyle(16)}>
            {u}
          </text>
        ))}
    </g>
  );
}

export default function App() {
  const idxs = [0, 1, 2, 3, 4, 5];
  return (
    <div style={{ position: "absolute", left: 0, top: 0, width: W, height: H, background: "#fff" }}>
      <svg
        width={W}
        height={H}
        viewBox={`0 0 ${W} ${H}`}
        style={{ position: "absolute", left: 0, top: 0 }}
      >
        <rect x={0} y={0} width={W} height={H} fill="#fff" />
        {idxs.map((i) => (
          <PanelMarks key={"m" + i} idx={i} />
        ))}
      </svg>
      <svg
        width={W}
        height={H}
        viewBox={`0 0 ${W} ${H}`}
        style={{ position: "absolute", left: 0, top: 0, fontFamily: FONT }}
      >
        {idxs.map((i) => (
          <PanelTexts key={"t" + i} idx={i} />
        ))}
      </svg>
    </div>
  );
}
